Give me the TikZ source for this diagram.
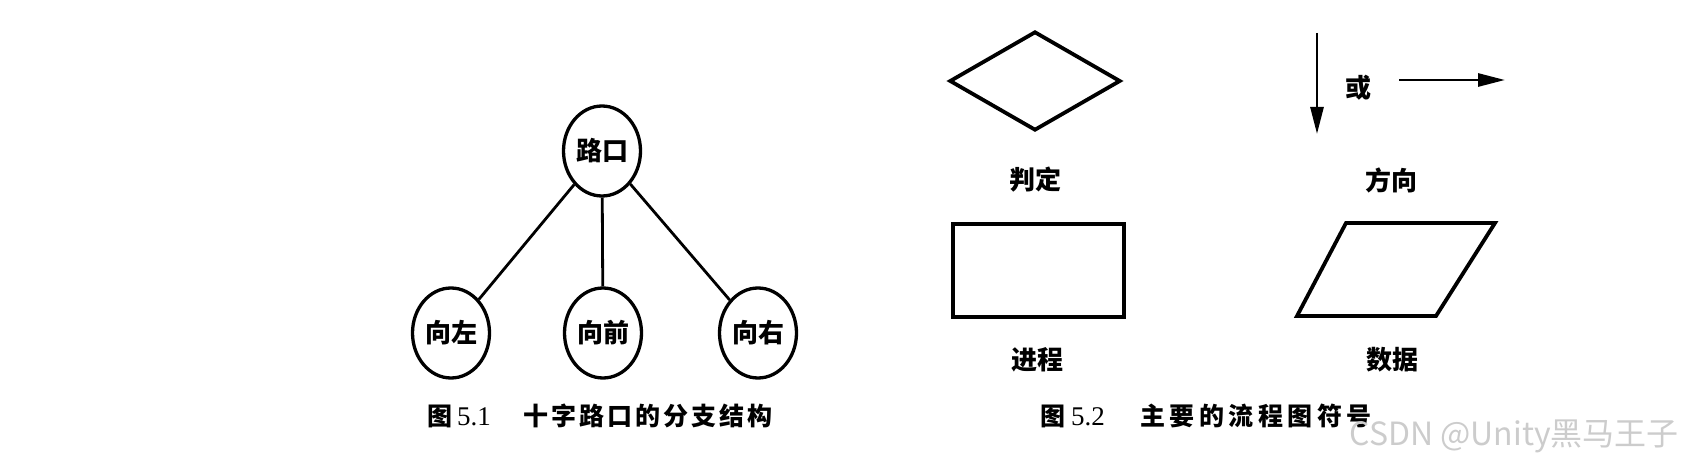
\documentclass[tikz,border=0pt]{standalone}
\usepackage{fontspec}
\usetikzlibrary{shapes.geometric,arrows.meta}
\newfontfamily\cjk{Noto Sans CJK SC}
\newfontfamily\cjksp{Noto Sans CJK SC}[LetterSpace=12]
\newfontfamily\cjkspw{Noto Sans CJK SC}[LetterSpace=18]
\newfontfamily\serifdig{Liberation Serif}
\begin{document}
\begin{tikzpicture}[x=1pt,y=-1pt,
  oval/.style={ellipse, draw, line width=3.3pt, minimum width=77pt, minimum height=90pt, inner sep=0pt, font=\cjk\bfseries\fontsize{26}{30}\selectfont},
  link/.style={line width=2.8pt},
  lbl/.style={inner sep=0pt, font=\cjk\bfseries\fontsize{26}{30}\selectfont},
  captxt/.style={inner sep=0pt, font=\cjksp\bfseries\fontsize{25}{30}\selectfont},
  captxtw/.style={inner sep=0pt, font=\cjkspw\bfseries\fontsize{25}{30}\selectfont},
  capnum/.style={inner sep=0pt, font=\serifdig\fontsize{27}{30}\selectfont},
  symb/.style={draw, line width=3.8pt, inner sep=0pt},
  arr/.style={line width=2.8pt, -{Triangle[length=27pt,width=13pt]}},
  wm/.style={inner sep=0pt, text=black!20, font=\cjk\fontsize{32}{36}\selectfont}
]
\useasboundingbox (0,0) rectangle (1684,465);

% Figure 5.1
\node[oval] (top) at (602,151) {路口};
\node[oval] (left) at (451,333) {向左};
\node[oval] (front) at (603,333) {向前};
\node[oval] (right) at (758,333) {向右};
\draw[link] (top) -- (left);
\draw[link] (top) -- (front);
\draw[link] (top) -- (right);

\node[captxt, anchor=west] (c1a) at (427,416) {图};
\node[capnum, anchor=west] (c1n) at (457,417) {5.1};
\node[captxt, anchor=west] (c1b) at (523,416) {十字路口的分支结构};

% Figure 5.2
\node[symb, diamond, minimum width=171pt, minimum height=99pt] (dec) at (1035,81) {};
\node[lbl] (decl) at (1035,180) {判定};

\node[symb, rectangle, minimum width=171pt, minimum height=93pt] (proc) at (1038.5,270.5) {};
\node[lbl] (procl) at (1037,360) {进程};

\coordinate (p1) at (1346,223);
\coordinate (p2) at (1495,223);
\coordinate (p3) at (1436,316);
\coordinate (p4) at (1297,316);
\draw[line width=3.8pt, line join=miter] (p1) -- (p2) -- (p3) -- (p4) -- cycle;
\node[lbl] (datal) at (1392,360) {数据};

\coordinate (a1) at (1317,33);
\coordinate (a2) at (1317,134);
\coordinate (b1) at (1399,80);
\coordinate (b2) at (1505,80);
\draw[arr] (a1) -- (a2);
\draw[arr] (b1) -- (b2);
\node[lbl] (or) at (1358,88) {或};
\node[lbl] (dirl) at (1391,180) {方向};

\node[captxt, anchor=west] (c2a) at (1040,416) {图};
\node[capnum, anchor=west] (c2n) at (1071,417) {5.2};
\node[captxtw, anchor=west] (c2b) at (1140,416) {主要的流程图符号};

\node[wm, anchor=east] (wmark) at (1679,436) {CSDN @Unity黑马王子};
\end{tikzpicture}
\end{document}
